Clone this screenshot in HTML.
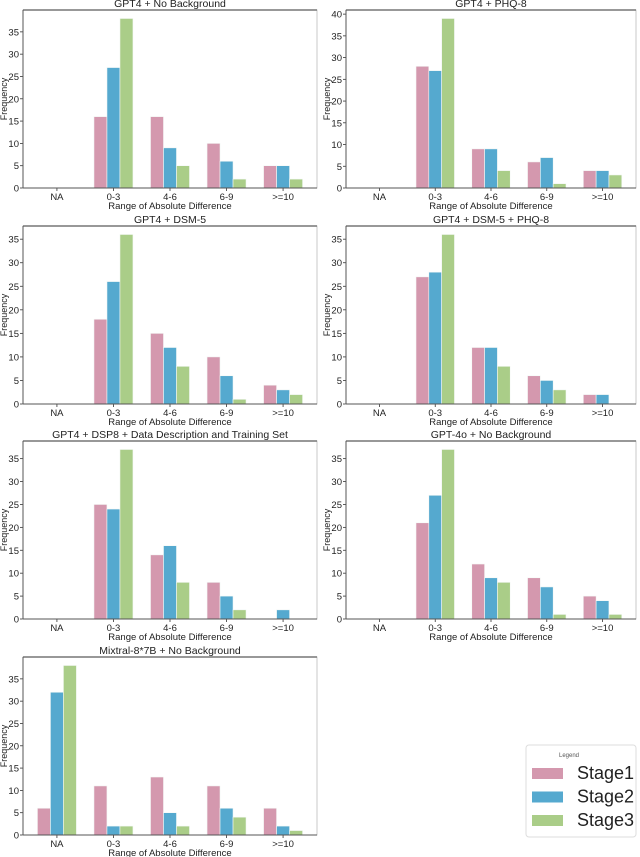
<!DOCTYPE html>
<html><head><meta charset="utf-8"><style>
html,body{margin:0;padding:0;background:#fff;width:640px;height:857px;overflow:hidden;font-family:"Liberation Sans","DejaVu Sans",sans-serif}
</style></head><body>
<svg id="fig" width="640" height="857" viewBox="0 0 640 857" xmlns="http://www.w3.org/2000/svg" font-family="Liberation Sans, DejaVu Sans, sans-serif"></svg>
<script>
const categories = ["NA","0-3","4-6","6-9",">=10"];
const titles = ["GPT4 + No Background","GPT4 + PHQ-8","GPT4 + DSM-5","GPT4 + DSM-5 + PHQ-8","GPT4 + DSP8 + Data Description and Training Set","GPT-4o + No Background","Mixtral-8*7B + No Background"];
const stage1 = [[0,16,16,10,5],[0,28,9,6,4],[0,18,15,10,4],[0,27,12,6,2],[0,25,14,8,0],[0,21,12,9,5],[6,11,13,11,6]];
const stage2 = [[0,27,9,6,5],[0,27,9,7,4],[0,26,12,6,3],[0,28,12,5,2],[0,24,16,5,2],[0,27,9,7,4],[32,2,5,6,2]];
const stage3 = [[0,38,5,2,2],[0,39,4,1,3],[0,36,8,1,2],[0,36,8,3,0],[0,37,8,2,0],[0,37,8,1,1],[38,2,2,4,1]];
const seriesNames = ["Stage1","Stage2","Stage3"];
const colors = ["#d498ae","#55a9cf","#aacd88"];
const NS="http://www.w3.org/2000/svg";
const fig=document.getElementById('fig');
function mk(tag,attrs,parent){const e=document.createElementNS(NS,tag);for(const k in attrs)e.setAttribute(k,attrs[k]);(parent||fig).appendChild(e);return e;}
const colX=[[23,317],[346,636]];
const rowY=[[10,188],[226,404],[441,619],[657,835]];
titles.forEach((t,i)=>{
  const c=i%2,r=Math.floor(i/2);
  const [x0,x1]=colX[c],[y0,y1]=rowY[r];
  const g=mk('g',{});
  
  
  const data=[stage1[i],stage2[i],stage3[i]];
  const ymax=Math.max(...data.flat())*1.05;
  const ys=v=>y1-(v/ymax)*(y1-y0);
  const xs=v=>x0+(v+0.6)/5.2*(x1-x0);
  const bw=0.23;
  for(let v=0;v<=ymax;v+=5){
    const y=ys(v);
    mk('line',{x1:x0-3,x2:x0,y1:y,y2:y,stroke:'#333','stroke-width':0.8},g);
    const tx=mk('text',{x:x0-4,y:y+3.5,'font-size':9.5,'text-anchor':'end',fill:'#222'},g);tx.textContent=v;
    
    
  }
  categories.forEach((cat,k)=>{
    const x=xs(k);
    mk('line',{x1:x,x2:x,y1:y1,y2:y1+3,stroke:'#333','stroke-width':0.8},g);
    const tx=mk('text',{x:x,y:y1+12,'font-size':9.5,'text-anchor':'middle',fill:'#222'},g);tx.textContent=cat;
    
    
    data.forEach((ser,s)=>{
      const v=ser[k];
      if(v<=0)return;
      const bx=xs(k+(s-1)*bw-bw/2);
      const b=mk('rect',{x:bx,y:ys(v),width:xs(k+(s-1)*bw+bw/2)-bx,height:y1-ys(v),fill:colors[s],stroke:'#f4f8f6','stroke-width':0.6},g);
      
      
    });
  });
  mk('rect',{x:x0,y:y0,width:x1-x0,height:y1-y0,fill:'none',stroke:'#bbb','stroke-width':0.8},g);
  mk('line',{x1:x0,x2:x1,y1:y0,y2:y0,stroke:'#777','stroke-width':1.6},g);
  mk('line',{x1:x0,x2:x0,y1:y0,y2:y1,stroke:'#555','stroke-width':1},g);
  mk('line',{x1:x0,x2:x1,y1:y1,y2:y1,stroke:'#555','stroke-width':1},g);
  const tt=mk('text',{x:(x0+x1)/2,y:y0-3,'font-size':10.5,'text-anchor':'middle',fill:'#222'},g);tt.textContent=t;
  
  
  const xl=mk('text',{x:(x0+x1)/2,y:y1+21,'font-size':9.5,'text-anchor':'middle',fill:'#222'},g);xl.textContent='Range of Absolute Difference';
  
  
  const yl=mk('text',{x:0,y:0,'font-size':9,'text-anchor':'middle',fill:'#222',transform:`translate(${x0-16},${(y0+y1)/2}) rotate(-90)`},g);yl.textContent='Frequency';
  
  
});
const lg=mk('g',{});


mk('rect',{x:526,y:745,width:110,height:92,rx:3,fill:'#fff',stroke:'#ddd','stroke-width':1},lg);
const lt=mk('text',{x:569,y:757,'font-size':6,'text-anchor':'middle',fill:'#555'},lg);lt.textContent='Legend';


seriesNames.forEach((n,s)=>{
  const y=768+s*23.5;
  const p=mk('rect',{x:532,y:y,width:31,height:11,fill:colors[s]},lg);
  
  
  const tx=mk('text',{x:577,y:y+11,'font-size':18,fill:'#222'},lg);tx.textContent=n;
  
  
});
</script>
</body></html>
